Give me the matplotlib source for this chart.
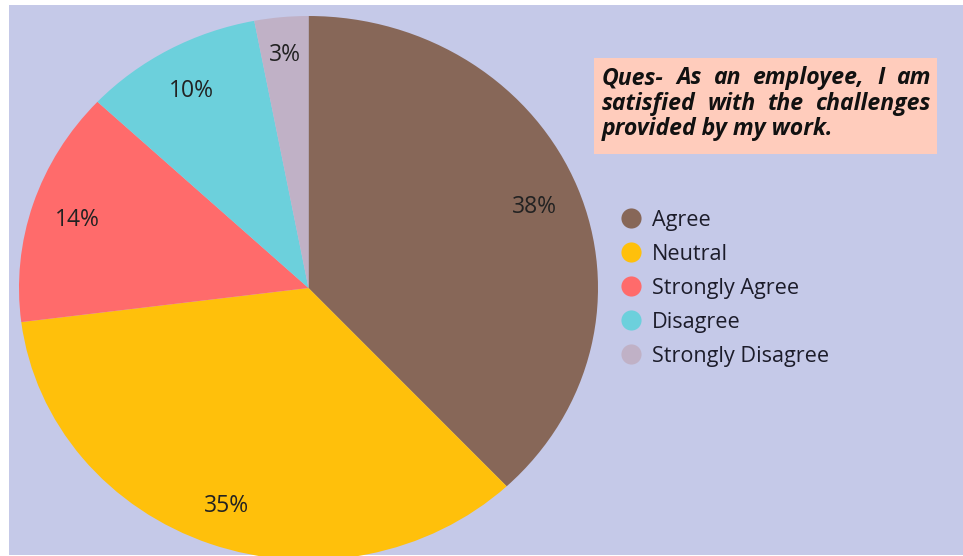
import numpy as np
import matplotlib
matplotlib.use("Agg")
import matplotlib.pyplot as plt
from matplotlib.patches import Rectangle
from matplotlib.lines import Line2D

# Survey responses
categories = ["Agree", "Neutral", "Strongly Agree", "Disagree", "Strongly Disagree"]
shares = [38, 35, 14, 10, 3]
colors = ["#876758", "#FFC00B", "#FF6B6B", "#6CD0DC", "#C0B1C6"]
question_lines = ["Ques- As an employee, I am",
                  "satisfied with the challenges",
                  "provided by my work."]

W, H = 963, 556
BG = "#C5C9E8"
fig = plt.figure(figsize=(W / 100, H / 100), dpi=100)
fig.patch.set_facecolor("white")

def fx(px):
    return px / W

def fy(py):
    return 1 - py / H

# lavender panel
fig.patches.append(Rectangle((fx(9), fy(555)), fx(963 - 9), (555 - 5) / H,
                             transform=fig.transFigure, facecolor=BG,
                             edgecolor="none", zorder=0))

# pie area (slightly squashed vertically)
ax = fig.add_axes([fx(19), fy(560), fx(579), 544 / H])
ax.set_zorder(2)
ax.set_facecolor("none")
wedges, texts, autotexts = ax.pie(
    shares, colors=colors, startangle=90, counterclock=False,
    autopct="%.0f%%", pctdistance=0.84,
    wedgeprops=dict(linewidth=0),
    textprops=dict(family="Open Sans", fontsize=16.5, color="#222222"))
for w, t, s in zip(wedges, autotexts, shares):
    t.set_va("center_baseline")
    if s < 5:
        # push labels of thin slices a bit further out
        mid = np.deg2rad((w.theta1 + w.theta2) / 2)
        t.set_position((0.87 * np.cos(mid), 0.87 * np.sin(mid)))
ax.set_aspect("auto")
ax.set_xlim(-1, 1)
ax.set_ylim(-1, 1)
ax.axis("off")

# question box
fig.patches.append(Rectangle((fx(594), fy(154)), fx(937 - 594), (154 - 58) / H,
                             transform=fig.transFigure, facecolor="#FFCCBC",
                             edgecolor="none", zorder=1))

renderer = fig.canvas.get_renderer()
qprops = dict(family="Open Sans", fontsize=16.6, fontweight="bold",
              fontstyle="italic", color="#111111", va="baseline", ha="left",
              zorder=3)
x0, x1 = 602, 931
baselines = [84, 110, 135]
for i, (line, yb) in enumerate(zip(question_lines, baselines)):
    if i < len(question_lines) - 1:
        words = line.split()
        ts = [fig.text(0, fy(yb), w, **qprops) for w in words]
        widths = [t.get_window_extent(renderer).width for t in ts]
        gap = (x1 - x0 - sum(widths)) / (len(words) - 1)
        x = x0
        for t, w in zip(ts, widths):
            t.set_x(fx(x))
            x += w + gap
    else:
        fig.text(fx(x0), fy(yb), line, **qprops)

# legend
handles = [Line2D([], [], linestyle="none", marker="o", markersize=14.5,
                  markerfacecolor=c, markeredgecolor="none") for c in colors]
fig.legend(handles, categories, loc="upper left",
           bbox_to_anchor=(fx(620), fy(210)), frameon=False,
           prop=dict(family="Open Sans", size=15.6), labelcolor="#1C1C2A",
           handlelength=1.0, handletextpad=0.48, labelspacing=0.6,
           borderpad=0, borderaxespad=0)

fig.savefig("out.png", dpi=100, facecolor=fig.get_facecolor())
